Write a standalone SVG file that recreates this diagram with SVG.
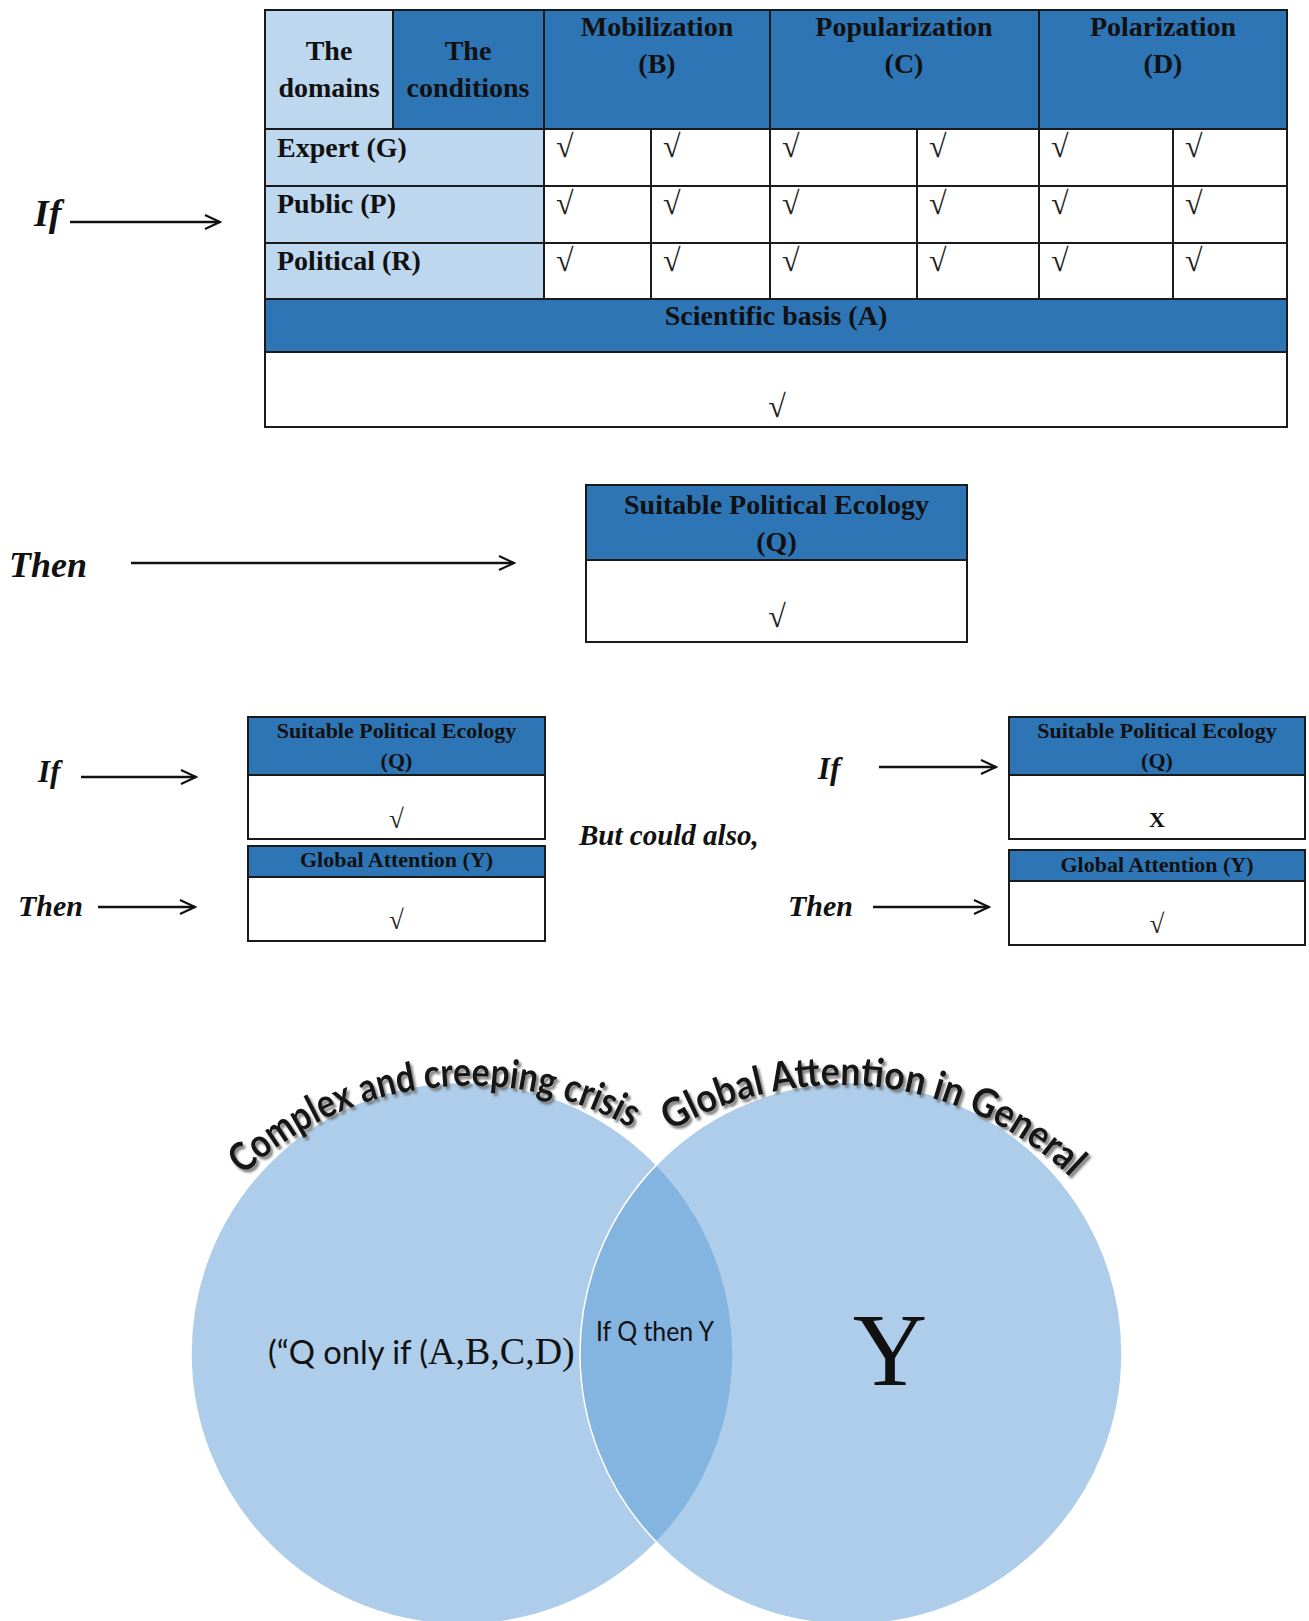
<svg xmlns="http://www.w3.org/2000/svg" width="1309" height="1621" viewBox="0 0 1309 1621">
  <style>
    .dark { fill: #2E75B6; }
    .light { fill: #BDD7EE; }
    .white { fill: #FFFFFF; }
    .grid { stroke: #1a1a1a; stroke-width: 2; fill: none; }
    .hd { font-family: "Liberation Serif", "Times New Roman", serif; font-weight: bold; font-size: 28px; fill: #111; }
    .hd-s { font-family: "Liberation Serif", "Times New Roman", serif; font-weight: bold; font-size: 22px; fill: #111; }
    .chk { font-family: "Liberation Serif", "Times New Roman", serif; font-size: 32px; fill: #222; }
    .chk-s { font-family: "Liberation Serif", "Times New Roman", serif; font-size: 27px; fill: #222; }
    .lbl { font-family: "Liberation Serif", "Times New Roman", serif; font-weight: bold; font-style: italic; fill: #111; }
    .arrow { stroke: #111; stroke-width: 2.4; fill: none; marker-end: url(#arr); }
    .venn { fill: #5B9BD5; fill-opacity: 0.5; stroke: #FFFFFF; stroke-width: 1.5; }
    .arc { font-family: Lato, "Open Sans", sans-serif; font-weight: bold; font-size: 40px; fill: #151515; filter: url(#shadow); }
    .sans { font-family: Lato, "Open Sans", sans-serif; fill: #111; }
  </style>
  <defs>
    <marker id="arr" markerUnits="userSpaceOnUse" markerWidth="18" markerHeight="18" refX="16" refY="8" orient="auto">
      <path d="M1,1 L16,8 L1,15" fill="none" stroke="#111" stroke-width="2.2"/>
    </marker>
    <filter id="shadow" x="-10%" y="-30%" width="120%" height="160%">
      <feDropShadow dx="2.5" dy="3" stdDeviation="1" flood-color="#777" flood-opacity="0.9"/>
    </filter>
    <!-- baseline arcs for the curved circle titles -->
    <path id="arcLeft" d="M243.1,1175.4 A330,330 0 0 1 636,1131"/>
    <path id="arcRight" d="M670.5,1131.2 A334,334 0 0 1 1075,1182"/>
  </defs>

  <!-- Conditions table: domains x conditions, plus scientific basis -->
  <g id="table-conditions">
    <rect class="light" x="265" y="10" width="128" height="119"/>
    <rect class="dark" x="393" y="10" width="894" height="119"/>
    <rect class="light" x="265" y="129" width="279" height="170"/>
    <rect class="white" x="544" y="129" width="743" height="170"/>
    <rect class="dark" x="265" y="299" width="1022" height="53"/>
    <rect class="white" x="265" y="352" width="1022" height="75"/>
    <path class="grid" d="M265,129H1287 M265,186H1287 M265,243H1287 M265,299H1287 M265,352H1287
                          M393,10V129 M544,10V299 M770,10V299 M1039,10V299
                          M651,129V299 M917,129V299 M1173,129V299"/>
    <rect class="grid" x="265" y="10" width="1022" height="417" stroke-width="2.5"/>

    <text class="hd" text-anchor="middle"><tspan x="329" y="60">The</tspan><tspan x="329" y="97">domains</tspan></text>
    <text class="hd" text-anchor="middle"><tspan x="468" y="60">The</tspan><tspan x="468" y="97">conditions</tspan></text>
    <text class="hd" text-anchor="middle"><tspan x="657" y="36">Mobilization</tspan><tspan x="657" y="73">(B)</tspan></text>
    <text class="hd" text-anchor="middle"><tspan x="904" y="36">Popularization</tspan><tspan x="904" y="73">(C)</tspan></text>
    <text class="hd" text-anchor="middle"><tspan x="1163" y="36">Polarization</tspan><tspan x="1163" y="73">(D)</tspan></text>

    <text class="hd" x="277" y="157">Expert (G)</text>
    <text class="hd" x="277" y="213">Public (P)</text>
    <text class="hd" x="277" y="270">Political (R)</text>

    <g class="chk">
      <text x="556" y="157">√</text><text x="663" y="157">√</text><text x="782" y="157">√</text>
      <text x="929" y="157">√</text><text x="1051" y="157">√</text><text x="1185" y="157">√</text>
      <text x="556" y="214">√</text><text x="663" y="214">√</text><text x="782" y="214">√</text>
      <text x="929" y="214">√</text><text x="1051" y="214">√</text><text x="1185" y="214">√</text>
      <text x="556" y="271">√</text><text x="663" y="271">√</text><text x="782" y="271">√</text>
      <text x="929" y="271">√</text><text x="1051" y="271">√</text><text x="1185" y="271">√</text>
    </g>

    <text class="hd" x="776" y="325" text-anchor="middle">Scientific basis (A)</text>
    <text class="chk" x="777" y="417" text-anchor="middle">√</text>
  </g>

  <!-- Political ecology outcome -->
  <g id="box-q-main">
    <rect class="dark" x="586" y="485" width="381" height="75"/>
    <rect class="white" x="586" y="560" width="381" height="82"/>
    <path class="grid" d="M586,560H967"/>
    <rect class="grid" x="586" y="485" width="381" height="157"/>
    <text class="hd" text-anchor="middle"><tspan x="776.5" y="514">Suitable Political Ecology</tspan><tspan x="776.5" y="551">(Q)</tspan></text>
    <text class="chk" x="777" y="627" text-anchor="middle">√</text>
  </g>

  <!-- Left scenario: Q present, Y present -->
  <g id="box-q-left">
    <rect class="dark" x="248" y="717" width="297" height="58"/>
    <rect class="white" x="248" y="775" width="297" height="64"/>
    <path class="grid" d="M248,775H545"/>
    <rect class="grid" x="248" y="717" width="297" height="122"/>
    <text class="hd-s" text-anchor="middle"><tspan x="396.5" y="738">Suitable Political Ecology</tspan><tspan x="396.5" y="768">(Q)</tspan></text>
    <text class="chk-s" x="396.5" y="828" text-anchor="middle">√</text>
  </g>
  <g id="box-y-left">
    <rect class="dark" x="248" y="846" width="297" height="31"/>
    <rect class="white" x="248" y="877" width="297" height="64"/>
    <path class="grid" d="M248,877H545"/>
    <rect class="grid" x="248" y="846" width="297" height="95"/>
    <text class="hd-s" x="396.5" y="867" text-anchor="middle">Global Attention (Y)</text>
    <text class="chk-s" x="396.5" y="929" text-anchor="middle">√</text>
  </g>

  <!-- Right scenario: Q absent, Y present -->
  <g id="box-q-right">
    <rect class="dark" x="1009" y="717" width="296" height="58"/>
    <rect class="white" x="1009" y="775" width="296" height="64"/>
    <path class="grid" d="M1009,775H1305"/>
    <rect class="grid" x="1009" y="717" width="296" height="122"/>
    <text class="hd-s" text-anchor="middle"><tspan x="1157" y="738">Suitable Political Ecology</tspan><tspan x="1157" y="768">(Q)</tspan></text>
    <text class="hd-s" x="1157" y="827" text-anchor="middle">X</text>
  </g>
  <g id="box-y-right">
    <rect class="dark" x="1009" y="850" width="296" height="31"/>
    <rect class="white" x="1009" y="881" width="296" height="64"/>
    <path class="grid" d="M1009,881H1305"/>
    <rect class="grid" x="1009" y="850" width="296" height="95"/>
    <text class="hd-s" x="1157" y="872" text-anchor="middle">Global Attention (Y)</text>
    <text class="chk-s" x="1157" y="933" text-anchor="middle">√</text>
  </g>

  <!-- If / Then labels -->
  <g id="labels">
    <text class="lbl" x="34" y="226" font-size="38">If</text>
    <text class="lbl" x="9" y="577" font-size="36">Then</text>
    <text class="lbl" x="38" y="782" font-size="31">If</text>
    <text class="lbl" x="18" y="916" font-size="30">Then</text>
    <text class="lbl" x="579" y="845" font-size="29">But could also,</text>
    <text class="lbl" x="818" y="779" font-size="31">If</text>
    <text class="lbl" x="788" y="916" font-size="30">Then</text>
  </g>

  <g id="connectors">
    <line class="arrow" x1="70" y1="222" x2="220" y2="222"/>
    <line class="arrow" x1="131" y1="563" x2="514" y2="563"/>
    <line class="arrow" x1="81" y1="777" x2="196" y2="777"/>
    <line class="arrow" x1="98" y1="907" x2="195" y2="907"/>
    <line class="arrow" x1="879" y1="767" x2="996" y2="767"/>
    <line class="arrow" x1="873" y1="907" x2="989" y2="907"/>
  </g>

  <!-- Venn diagram -->
  <g id="venn-crisis">
    <circle class="venn" cx="462" cy="1353.5" r="271"/>
    <text class="arc"><textPath href="#arcLeft" textLength="418" lengthAdjust="spacingAndGlyphs">Complex and creeping crisis</textPath></text>
    <text class="sans" y="1364" font-size="33"><tspan x="268" textLength="160" lengthAdjust="spacingAndGlyphs">(“Q only if (</tspan><tspan font-family="'Liberation Serif', 'Times New Roman', serif" font-size="38">A,B,C,D)</tspan></text>
  </g>
  <g id="venn-attention">
    <circle class="venn" cx="851" cy="1353.5" r="271"/>
    <text class="arc"><textPath href="#arcRight" textLength="432" lengthAdjust="spacingAndGlyphs">Global Attention in General</textPath></text>
    <text x="890" y="1385" text-anchor="middle" font-family="'Liberation Serif', 'Times New Roman', serif" font-size="103" fill="#111">Y</text>
  </g>
  <g id="venn-overlap">
    <text class="sans" x="596" y="1341" font-size="26" textLength="118" lengthAdjust="spacingAndGlyphs">If Q then Y</text>
  </g>
</svg>
